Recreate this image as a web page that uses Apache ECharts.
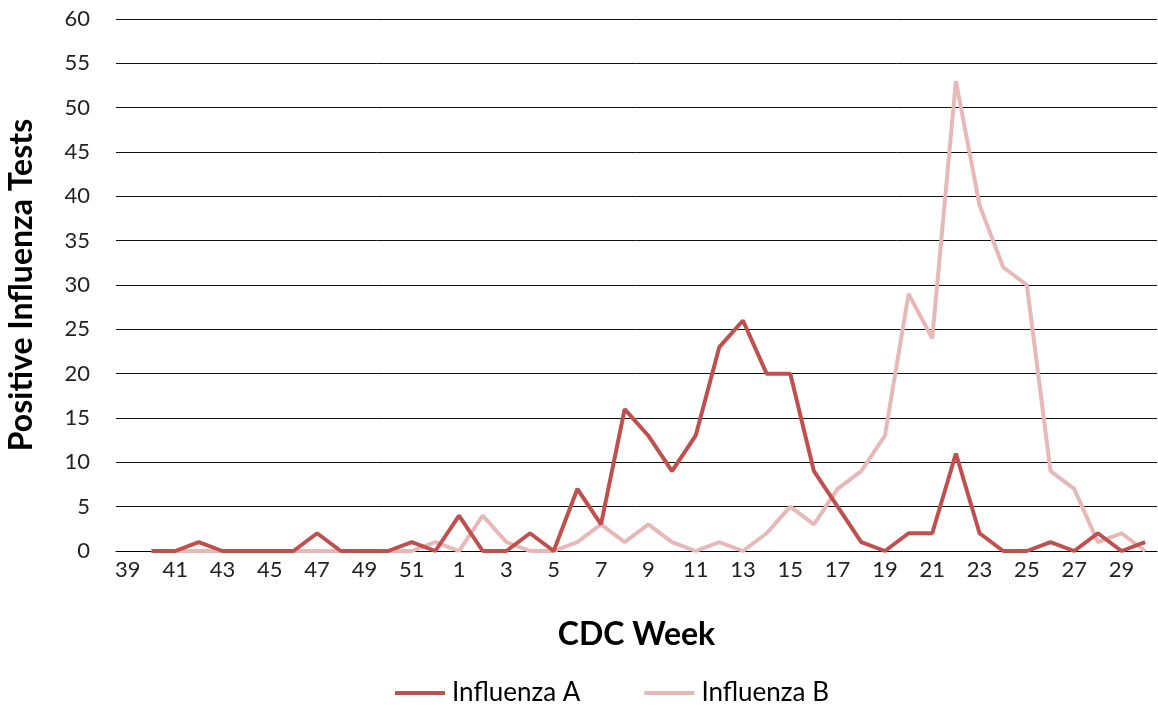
<!DOCTYPE html>
<html><head><meta charset="utf-8">
<script src="https://cdn.jsdelivr.net/npm/echarts@6/dist/echarts.min.js"></script>
<style>html,body{margin:0;padding:0;background:#fff}#c{width:1158px;height:710px}</style>
</head><body><div id="c"></div>
<script>
const weeks = ['39','40','41','42','43','44','45','46','47','48','49','50','51','52',
  '1','2','3','4','5','6','7','8','9','10','11','12','13','14','15','16','17','18','19','20',
  '21','22','23','24','25','26','27','28','29','30'];
const fluA = [null,0,0,1,0,0,0,0,2,0,0,0,1,0,
  4,0,0,2,0,7,3,16,13,9,13,23,26,20,20,9,5,1,0,2,
  2,11,2,0,0,1,0,2,0,1];
const fluB = [null,0,0,0,0,0,0,0,0,0,0,0,0,1,
  0,4,1,0,0,1,3,1,3,1,0,1,0,2,5,3,7,9,13,29,
  24,53,39,32,30,9,7,1,2,0];
const yTicks = [0,5,10,15,20,25,30,35,40,45,50,55,60];

const font = 'Lato, Open Sans, sans-serif';
const chart = echarts.init(document.getElementById('c'), null, {renderer:'canvas'});
chart.setOption({
  animation:false,
  grid:{left:116, right:1, top:19, bottom:159, outerBoundsMode:'none', containLabel:false},
  legend:{
    top:675, left:390, itemWidth:50, itemHeight:4, itemGap:64,
    icon:'rect',
    textStyle:{fontFamily:font, fontSize:26, color:'#000', padding:[0,0,0,2]},
    data:['Influenza A','Influenza B']
  },
  xAxis:{
    type:'category', data:weeks, boundaryGap:true,
    name:'CDC Week', nameLocation:'middle', nameGap:68,
    nameTextStyle:{fontFamily:font, fontSize:32, fontWeight:'bold', color:'#000'},
    axisLine:{show:true, lineStyle:{color:'#000', width:1}},
    axisTick:{show:false},
    axisLabel:{interval:1, fontFamily:font, fontSize:22, color:'#222', margin:8}
  },
  yAxis:{
    type:'value', min:0, max:60, interval:5,
    name:'Positive Influenza Tests', nameLocation:'middle', nameGap:78,
    nameTextStyle:{fontFamily:font, fontSize:32, fontWeight:'bold', color:'#000'},
    axisLine:{show:false}, axisTick:{show:false},
    axisLabel:{fontFamily:font, fontSize:22, color:'#222', margin:26,
      formatter: v => yTicks.includes(v) ? String(v) : ''},
    splitLine:{lineStyle:{color:'#111', width:1}}
  },
  series:[
    {name:'Influenza A', type:'line', data:fluA, symbol:'none',
     lineStyle:{color:'#C0504D', width:4}, itemStyle:{color:'#C0504D'}, z:3},
    {name:'Influenza B', type:'line', data:fluB, symbol:'none',
     lineStyle:{color:'#E6B9B8', width:4}, itemStyle:{color:'#E6B9B8'}, z:2}
  ]
});
</script></body></html>
